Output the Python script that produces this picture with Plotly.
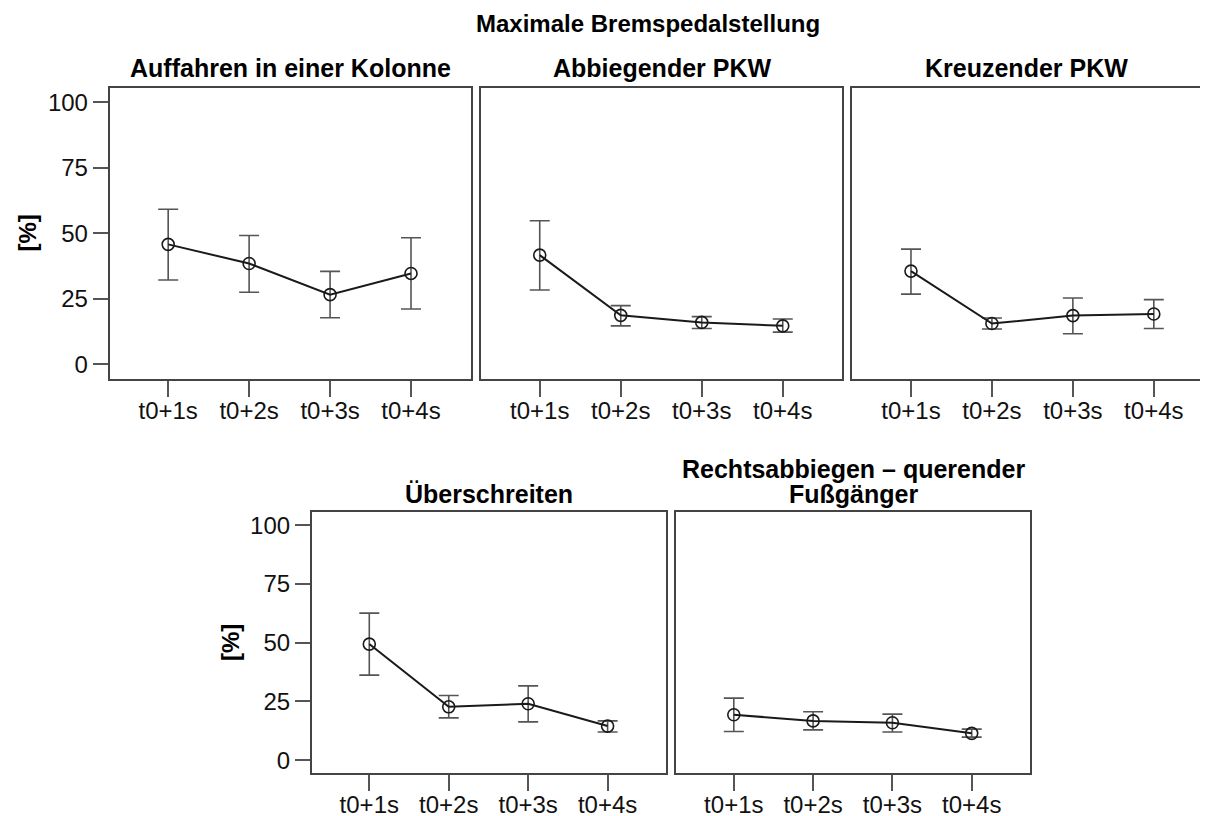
import plotly.graph_objects as go

W, H = 1208, 816
OFF = 8  # page body margin offset (screen px -> figure px)

main_title = "Maximale Bremspedalstellung"
y_label = "[%]"
time_labels = ["t0+1s", "t0+2s", "t0+3s", "t0+4s"]

panel_titles = [
    ["Auffahren in einer Kolonne"],
    ["Abbiegender PKW"],
    ["Kreuzender PKW"],
    ["Überschreiten"],
    ["Rechtsabbiegen – querender", "Fußgänger"],
]

# means and 95% CI bounds
mean_auffahren = [45.8, 38.5, 26.6, 34.7]
upper_auffahren = [59.2, 49.2, 35.5, 48.3]
lower_auffahren = [32.2, 27.5, 17.8, 21.1]

mean_abbiegend = [41.7, 18.7, 16.0, 14.7]
upper_abbiegend = [54.8, 22.4, 18.2, 17.3]
lower_abbiegend = [28.4, 14.7, 13.7, 12.3]

mean_kreuzend = [35.6, 15.6, 18.6, 19.2]
upper_kreuzend = [44.0, 17.7, 25.3, 24.7]
lower_kreuzend = [26.8, 13.5, 11.7, 13.7]

mean_ueber = [49.4, 22.7, 24.0, 14.5]
upper_ueber = [62.6, 27.5, 31.6, 16.7]
lower_ueber = [36.2, 18.0, 16.3, 12.0]

mean_rechts = [19.3, 16.7, 15.9, 11.4]
upper_rechts = [26.4, 20.6, 19.6, 13.2]
lower_rechts = [12.2, 12.9, 12.0, 9.8]

series = [
    (mean_auffahren, upper_auffahren, lower_auffahren),
    (mean_abbiegend, upper_abbiegend, lower_abbiegend),
    (mean_kreuzend, upper_kreuzend, lower_kreuzend),
    (mean_ueber, upper_ueber, lower_ueber),
    (mean_rechts, upper_rechts, lower_rechts),
]

# panel frames in screen pixels: (left, right, top, bottom)
frames = [
    (109.5, 470.5, 88, 379),
    (481, 842.3, 88, 379),
    (852.3, 1213, 88, 379),
    (311.7, 666, 512.3, 773.3),
    (676.3, 1030, 512.3, 773.3),
]


def px(x):
    return (x - OFF) / W


def py(y):
    return 1 - (y - OFF) / H


FONT = "Liberation Sans, Arial, sans-serif"
fig = go.Figure()

xcat = list(range(len(time_labels)))
base_w = frames[0][1] - frames[0][0]
x_lo, x_hi = -0.725, 3.735

for i, ((m, up, lo), (l, r, t, b)) in enumerate(zip(series, frames)):
    k = i + 1
    xa = "x" if k == 1 else f"x{k}"
    ya = "y" if k == 1 else f"y{k}"
    fig.add_trace(go.Scatter(
        x=xcat, y=m, xaxis=xa, yaxis=ya, mode="lines+markers",
        line=dict(color="#1a1a1a", width=2),
        marker=dict(symbol="circle-open", size=12, color="#1a1a1a", line=dict(width=1.6)),
        error_y=dict(type="data", symmetric=False,
                     array=[u - v for u, v in zip(up, m)],
                     arrayminus=[v - w for v, w in zip(m, lo)],
                     color="#555555", thickness=1.6, width=10),
        showlegend=False, hoverinfo="skip",
    ))
    w = r - l
    xr = [x_lo, x_lo + (x_hi - x_lo) * w / base_w] if i == 2 else [x_lo, x_hi]
    show_y = i in (0, 3)
    xkey = "xaxis" if k == 1 else f"xaxis{k}"
    ykey = "yaxis" if k == 1 else f"yaxis{k}"
    fig.layout[xkey] = dict(
        domain=[px(l), min(px(r), 1.0)], anchor=ya, range=xr,
        tickvals=xcat, ticktext=time_labels, ticks="outside", ticklen=16,
        tickcolor="#555555", tickwidth=1.5, ticklabelstandoff=-7,
        showline=True, mirror=True, linecolor="#444444", linewidth=1.5,
        showgrid=False, zeroline=False,
        tickfont=dict(family=FONT, size=24, color="#111111"),
    )
    fig.layout[ykey] = dict(
        domain=[py(b), py(t)], anchor=xa, range=[-5.6, 105.5],
        tickvals=[0, 25, 50, 75, 100] if show_y else [],
        ticks="outside" if show_y else "", ticklen=15,
        tickcolor="#555555", tickwidth=1.5,
        showticklabels=show_y,
        showline=True, mirror=True, linecolor="#444444", linewidth=1.5,
        showgrid=False, zeroline=False,
        tickfont=dict(family=FONT, size=24, color="#111111"),
    )

annotations = []
annotations.append(dict(text=f"<b>{main_title}</b>", x=px(648), y=py(23),
                        xref="paper", yref="paper", showarrow=False,
                        xanchor="center", yanchor="middle", height=30,
                        font=dict(family=FONT, size=24, color="#000000")))
title_y = [[68], [68], [68], [494], [469, 494]]
title_cx = [290, 661.6, 1026.5, 488.8, 853]
for i in range(len(frames)):
    for line, yy in zip(panel_titles[i], title_y[i]):
        annotations.append(dict(text=f"<b>{line}</b>", x=px(title_cx[i]), y=py(yy),
                                xref="paper", yref="paper", showarrow=False,
                                xanchor="center", yanchor="middle",
                                font=dict(family=FONT, size=25, color="#000000")))
for (cx, cy) in [(27, 233.5), (230, 643)]:
    annotations.append(dict(text=f"<b>{y_label}</b>", x=px(cx), y=py(cy),
                            xref="paper", yref="paper", showarrow=False,
                            textangle=-90, xanchor="center", yanchor="middle",
                            font=dict(family=FONT, size=24, color="#000000")))

fig.update_layout(
    width=W, height=H, margin=dict(l=0, r=0, t=0, b=0),
    paper_bgcolor="white", plot_bgcolor="white",
    annotations=annotations,
)

fig.write_html("out.html")
